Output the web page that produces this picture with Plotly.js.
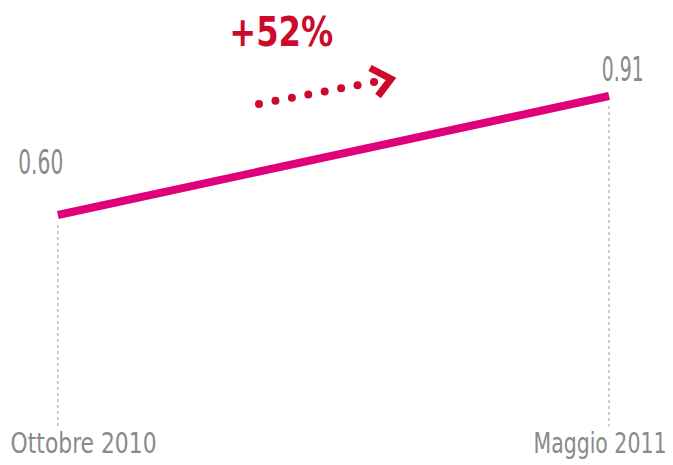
<!DOCTYPE html>
<html><head><meta charset="utf-8">
<script src="https://cdn.plot.ly/plotly-3.0.1.min.js"></script>
<style>html,body{margin:0;padding:0;background:#fff}#chart{width:673px;height:465px}</style>
</head><body><div id="chart"></div>
<script>
var categories = ["Ottobre 2010", "Maggio 2011"];
var values = [0.60, 0.91];
var valueLabels = ["0.60", "0.91"];
var changeLabel = "+52%";

var FONT = '"DejaVu Sans", sans-serif';
var GRAY = '#8a8a8a';
var RED = '#cc0a2b';
var MAGENTA = '#e0007a';

var traces = [];
for (var i = 0; i < categories.length; i++) {
  traces.push({
    x: [categories[i], categories[i]],
    y: [values[i] - 0.026, 0.05],
    mode: 'lines', type: 'scatter', hoverinfo: 'skip', showlegend: false,
    line: {color: '#9a9a9a', width: 1, dash: 'dot'}
  });
}
traces.push({
  x: categories, y: values, mode: 'lines', type: 'scatter', showlegend: false,
  line: {color: MAGENTA, width: 8}
});

// style: target widths (px) used to condense the label glyphs horizontally
var annotations = [], targetWidth = [];
var labelShift = [{x: -17.5, y: 31}, {x: 13.5, y: 5}];
for (var i = 0; i < categories.length; i++) {
  annotations.push({
    x: categories[i], y: values[i], xref: 'x', yref: 'y', text: valueLabels[i],
    showarrow: false, xanchor: 'center', yanchor: 'bottom',
    xshift: labelShift[i].x, yshift: labelShift[i].y,
    font: {family: FONT, size: 33, color: GRAY}
  });
}
targetWidth.push(45, 42);
var catShift = [26, -9.5];
for (var i = 0; i < categories.length; i++) {
  annotations.push({
    x: categories[i], y: 0, xref: 'x', yref: 'paper', text: categories[i],
    showarrow: false, xanchor: 'center', yanchor: 'bottom', xshift: catShift[i], yshift: 3,
    font: {family: FONT, size: 28, color: GRAY}
  });
}
targetWidth.push(146, 133);
annotations.push({
  x: 281/673, y: 1 - 32/465, xref: 'paper', yref: 'paper', text: '<b>' + changeLabel + '</b>',
  showarrow: false, xanchor: 'center', yanchor: 'middle',
  font: {family: FONT, size: 41, color: RED}
});
targetWidth.push(104);

var shapes = [];
var x0 = 259, y0 = 104, x1 = 374, y1 = 82, n = 8;
for (var k = 0; k < n; k++) {
  var px = x0 + (x1 - x0) * k / (n - 1), py = y0 + (y1 - y0) * k / (n - 1);
  shapes.push({type: 'circle', xref: 'paper', yref: 'paper',
    x0: (px - 4) / 673, x1: (px + 4) / 673, y0: 1 - (py + 4) / 465, y1: 1 - (py - 4) / 465,
    fillcolor: RED, line: {width: 0}});
}
function P(x, y) { return (x / 673) + ',' + (1 - y / 465); }
shapes.push({type: 'path', xref: 'paper', yref: 'paper',
  path: 'M' + P(370, 68) + ' L' + P(391, 79) + ' L' + P(378, 96),
  line: {color: RED, width: 7}});

var layout = {
  width: 673, height: 465,
  margin: {l: 0, r: 0, t: 0, b: 0, pad: 0},
  paper_bgcolor: '#fff', plot_bgcolor: '#fff',
  xaxis: {type: 'category', range: [-0.105, 1.116], visible: false, fixedrange: true},
  yaxis: {range: [-0.051, 1.16], visible: false, fixedrange: true},
  annotations: annotations, shapes: shapes, showlegend: false
};
Plotly.newPlot('chart', traces, layout, {staticPlot: true}).then(function (gd) {
  var groups = gd.querySelectorAll('g.annotation');
  groups.forEach(function (g) {
    var idx = +g.getAttribute('data-index');
    var tw = targetWidth[idx];
    if (!tw) return;
    var t = g.querySelector('text.annotation-text');
    if (!t) return;
    var bb = t.getBBox();
    var s = tw / bb.width;
    var cx = bb.x + bb.width / 2;
    var prev = t.getAttribute('transform') || '';
    t.setAttribute('transform', prev + ' translate(' + (cx * (1 - s)) + ',0) scale(' + s + ',1)');
  });
});
</script></body></html>
